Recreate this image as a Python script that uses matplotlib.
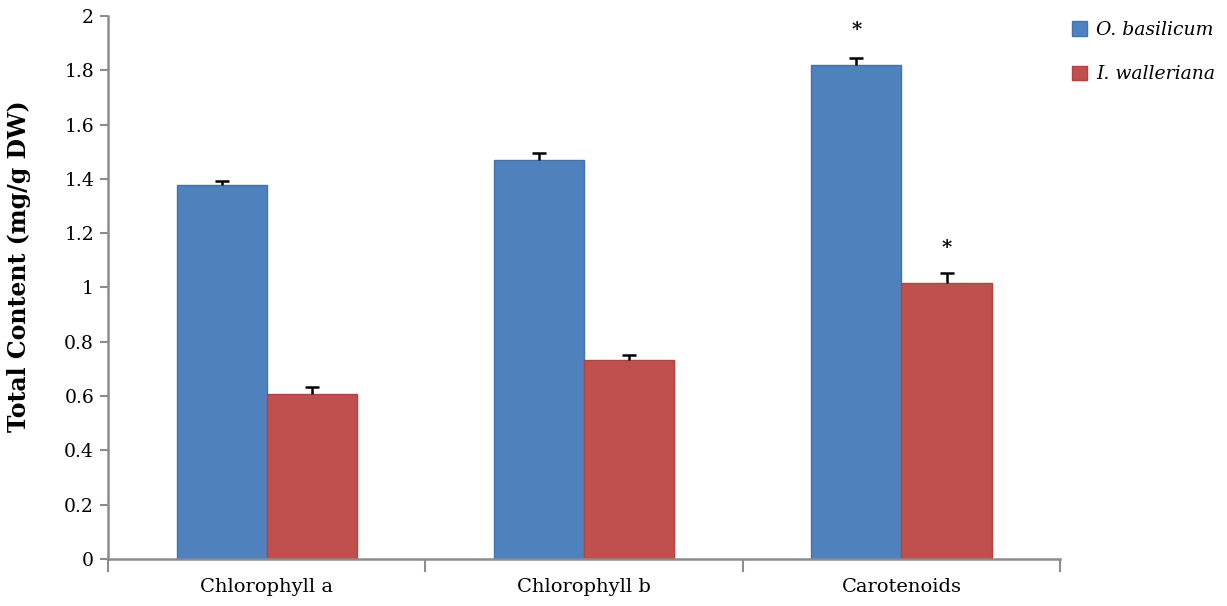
import numpy as np
import matplotlib
matplotlib.use("Agg")
import matplotlib.pyplot as plt
from matplotlib.patches import Patch

categories = ["Chlorophyll a", "Chlorophyll b", "Carotenoids"]
basilicum = [1.378, 1.470, 1.820]
basilicum_err = [0.015, 0.025, 0.025]
walleriana = [0.608, 0.733, 1.017]
walleriana_err = [0.025, 0.018, 0.035]
significant_b = [False, False, True]
significant_w = [False, False, True]

plt.rcParams['font.family'] = ['DejaVu Serif']

blue = '#4F81BD'
red = '#C0504D'
axis_grey = '#8c8c8c'

fig = plt.figure(figsize=(12.27, 6.06), dpi=100)
ax = fig.add_axes([0.088, 0.0776, 0.776, 0.896])

x = np.arange(len(categories))
w = 0.284

ax.bar(x - w / 2, basilicum, w, color=blue, edgecolor='#3f73b3', linewidth=1)
ax.bar(x + w / 2, walleriana, w, color=red, edgecolor='#b8403d', linewidth=1)

# upper error bars only (T shape, no lower cap)
for pos, vals, errs in [(x - w / 2, basilicum, basilicum_err),
                        (x + w / 2, walleriana, walleriana_err)]:
    eb = ax.errorbar(pos, vals, yerr=[np.zeros(3), errs], fmt='none',
                     ecolor='black', elinewidth=1.8, capsize=5, capthick=1.8)
    eb.lines[1][0].set_visible(False)

# significance markers
for i in range(len(categories)):
    if significant_b[i]:
        ax.text(x[i] - w / 2, basilicum[i] + basilicum_err[i] + 0.105, '*',
                ha='center', va='center', fontsize=14, fontweight='bold')
    if significant_w[i]:
        ax.text(x[i] + w / 2, walleriana[i] + walleriana_err[i] + 0.095, '*',
                ha='center', va='center', fontsize=14, fontweight='bold')

ax.set_xlim(-0.5, len(categories) - 0.5)
ax.set_ylim(0, 2)
ax.set_yticks(np.arange(0, 2.01, 0.2))
ax.set_yticklabels(['0', '0.2', '0.4', '0.6', '0.8', '1', '1.2', '1.4', '1.6', '1.8', '2'])

# category boundaries as major ticks, labels on minor ticks
ax.set_xticks(np.arange(-0.5, len(categories), 1.0))
ax.set_xticklabels([])
ax.set_xticks(x, minor=True)
ax.set_xticklabels(categories, minor=True)
ax.tick_params(axis='x', which='major', length=9, width=1.5, color=axis_grey, direction='out')
ax.tick_params(axis='x', which='minor', length=0, pad=14, labelsize=14)
ax.tick_params(axis='y', length=6, width=1.5, color=axis_grey, labelsize=13.5, pad=4)

for side in ['top', 'right']:
    ax.spines[side].set_visible(False)
for side in ['left', 'bottom']:
    ax.spines[side].set_color(axis_grey)
    ax.spines[side].set_linewidth(1.8)

ax.set_ylabel('Total Content (mg/g DW)', fontsize=17, fontweight='bold')
ax.yaxis.set_label_coords(-0.081, 0.54)

handles = [Patch(facecolor=blue, edgecolor='#3f73b3'),
           Patch(facecolor=red, edgecolor='#b8403d')]
fig.legend(handles, ['O. basilicum', 'I. walleriana'], loc='upper left',
           bbox_to_anchor=(0.86, 0.993), frameon=False, handlelength=0.8,
           handleheight=0.8, handletextpad=0.5, labelspacing=1.4,
           prop=dict(family='DejaVu Serif', style='italic', size=13.5))

fig.savefig('out.png', dpi=100)
